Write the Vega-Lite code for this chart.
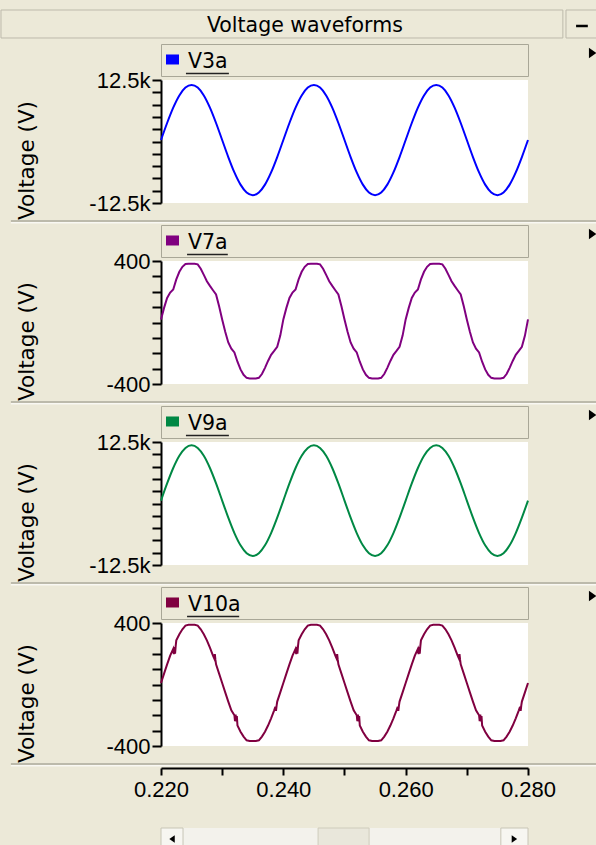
{
  "$schema": "https://vega.github.io/schema/vega-lite/v6.json",
  "padding": {"left": 0, "top": 9, "right": 0, "bottom": 0},
  "spacing": 4,
  "bounds": "flush",
  "config": {
    "background": "#ECE9D8",
    "view": {"stroke": null},
    "axis": {
      "domainColor": "#000000", "domainWidth": 2,
      "tickColor": "#000000", "tickWidth": 2,
      "labelFont": "Liberation Sans", "labelFontSize": 22, "labelColor": "#000000",
      "labelOverlap": false, "grid": false,
      "titleFont": "DejaVu Sans", "titleFontSize": 21.5, "titleFontWeight": "normal", "titleColor": "#000000"
    },
    "axisY": {"tickSize": 9, "labelPadding": 2, "titleX": -134, "titleY": 80, "titleBaseline": "middle", "titleAlign": "center"},
    "axisX": {"tickSize": 7, "labelPadding": 4, "labelFlush": false, "offset": 22, "labelDx": -5},
    "line": {"strokeWidth": 2}
  },
  "datasets": {
    "v3a": [
      {"t":0.220,"v":300},{"t":0.221,"v":3761},{"t":0.222,"v":6883},{"t":0.223,"v":9361},{"t":0.224,"v":10952},{"t":0.225,"v":11500},{"t":0.226,"v":10952},{"t":0.227,"v":9361},{"t":0.228,"v":6883},{"t":0.229,"v":3761},
      {"t":0.230,"v":300},{"t":0.231,"v":-3161},{"t":0.232,"v":-6283},{"t":0.233,"v":-8761},{"t":0.234,"v":-10352},{"t":0.235,"v":-10900},{"t":0.236,"v":-10352},{"t":0.237,"v":-8761},{"t":0.238,"v":-6283},{"t":0.239,"v":-3161},
      {"t":0.240,"v":300},{"t":0.241,"v":3761},{"t":0.242,"v":6883},{"t":0.243,"v":9361},{"t":0.244,"v":10952},{"t":0.245,"v":11500},{"t":0.246,"v":10952},{"t":0.247,"v":9361},{"t":0.248,"v":6883},{"t":0.249,"v":3761},
      {"t":0.250,"v":300},{"t":0.251,"v":-3161},{"t":0.252,"v":-6283},{"t":0.253,"v":-8761},{"t":0.254,"v":-10352},{"t":0.255,"v":-10900},{"t":0.256,"v":-10352},{"t":0.257,"v":-8761},{"t":0.258,"v":-6283},{"t":0.259,"v":-3161},
      {"t":0.260,"v":300},{"t":0.261,"v":3761},{"t":0.262,"v":6883},{"t":0.263,"v":9361},{"t":0.264,"v":10952},{"t":0.265,"v":11500},{"t":0.266,"v":10952},{"t":0.267,"v":9361},{"t":0.268,"v":6883},{"t":0.269,"v":3761},
      {"t":0.270,"v":300},{"t":0.271,"v":-3161},{"t":0.272,"v":-6283},{"t":0.273,"v":-8761},{"t":0.274,"v":-10352},{"t":0.275,"v":-10900},{"t":0.276,"v":-10352},{"t":0.277,"v":-8761},{"t":0.278,"v":-6283},{"t":0.279,"v":-3161},
      {"t":0.280,"v":300}
    ],
    "v9a": [
      {"t":0.220,"v":600},{"t":0.221,"v":4077},{"t":0.222,"v":7213},{"t":0.223,"v":9702},{"t":0.224,"v":11299},{"t":0.225,"v":11850},{"t":0.226,"v":11299},{"t":0.227,"v":9702},{"t":0.228,"v":7213},{"t":0.229,"v":4077},
      {"t":0.230,"v":600},{"t":0.231,"v":-2877},{"t":0.232,"v":-6013},{"t":0.233,"v":-8502},{"t":0.234,"v":-10099},{"t":0.235,"v":-10650},{"t":0.236,"v":-10099},{"t":0.237,"v":-8502},{"t":0.238,"v":-6013},{"t":0.239,"v":-2877},
      {"t":0.240,"v":600},{"t":0.241,"v":4077},{"t":0.242,"v":7213},{"t":0.243,"v":9702},{"t":0.244,"v":11299},{"t":0.245,"v":11850},{"t":0.246,"v":11299},{"t":0.247,"v":9702},{"t":0.248,"v":7213},{"t":0.249,"v":4077},
      {"t":0.250,"v":600},{"t":0.251,"v":-2877},{"t":0.252,"v":-6013},{"t":0.253,"v":-8502},{"t":0.254,"v":-10099},{"t":0.255,"v":-10650},{"t":0.256,"v":-10099},{"t":0.257,"v":-8502},{"t":0.258,"v":-6013},{"t":0.259,"v":-2877},
      {"t":0.260,"v":600},{"t":0.261,"v":4077},{"t":0.262,"v":7213},{"t":0.263,"v":9702},{"t":0.264,"v":11299},{"t":0.265,"v":11850},{"t":0.266,"v":11299},{"t":0.267,"v":9702},{"t":0.268,"v":7213},{"t":0.269,"v":4077},
      {"t":0.270,"v":600},{"t":0.271,"v":-2877},{"t":0.272,"v":-6013},{"t":0.273,"v":-8502},{"t":0.274,"v":-10099},{"t":0.275,"v":-10650},{"t":0.276,"v":-10099},{"t":0.277,"v":-8502},{"t":0.278,"v":-6013},{"t":0.279,"v":-2877},
      {"t":0.280,"v":600}
    ],
    "v7a": [
      {"t":0.2200,"v":20},{"t":0.2205,"v":95},{"t":0.2210,"v":160},{"t":0.2215,"v":195},{"t":0.2220,"v":215},{"t":0.2225,"v":280},{"t":0.2230,"v":330},{"t":0.2235,"v":362},{"t":0.2240,"v":380},{"t":0.2245,"v":382},
      {"t":0.2250,"v":382},{"t":0.2255,"v":382},{"t":0.2260,"v":378},{"t":0.2265,"v":350},{"t":0.2270,"v":310},{"t":0.2275,"v":268},{"t":0.2280,"v":238},{"t":0.2285,"v":210},{"t":0.2290,"v":182},{"t":0.2295,"v":105},
      {"t":0.2300,"v":20},{"t":0.2305,"v":-60},{"t":0.2310,"v":-130},{"t":0.2315,"v":-170},{"t":0.2320,"v":-195},{"t":0.2325,"v":-255},{"t":0.2330,"v":-305},{"t":0.2335,"v":-340},{"t":0.2340,"v":-360},{"t":0.2345,"v":-364},
      {"t":0.2350,"v":-364},{"t":0.2355,"v":-364},{"t":0.2360,"v":-360},{"t":0.2365,"v":-335},{"t":0.2370,"v":-295},{"t":0.2375,"v":-250},{"t":0.2380,"v":-210},{"t":0.2385,"v":-185},{"t":0.2390,"v":-158},{"t":0.2395,"v":-85},
      {"t":0.2400,"v":20},{"t":0.2405,"v":95},{"t":0.2410,"v":160},{"t":0.2415,"v":195},{"t":0.2420,"v":215},{"t":0.2425,"v":280},{"t":0.2430,"v":330},{"t":0.2435,"v":362},{"t":0.2440,"v":380},{"t":0.2445,"v":382},
      {"t":0.2450,"v":382},{"t":0.2455,"v":382},{"t":0.2460,"v":378},{"t":0.2465,"v":350},{"t":0.2470,"v":310},{"t":0.2475,"v":268},{"t":0.2480,"v":238},{"t":0.2485,"v":210},{"t":0.2490,"v":182},{"t":0.2495,"v":105},
      {"t":0.2500,"v":20},{"t":0.2505,"v":-60},{"t":0.2510,"v":-130},{"t":0.2515,"v":-170},{"t":0.2520,"v":-195},{"t":0.2525,"v":-255},{"t":0.2530,"v":-305},{"t":0.2535,"v":-340},{"t":0.2540,"v":-360},{"t":0.2545,"v":-364},
      {"t":0.2550,"v":-364},{"t":0.2555,"v":-364},{"t":0.2560,"v":-360},{"t":0.2565,"v":-335},{"t":0.2570,"v":-295},{"t":0.2575,"v":-250},{"t":0.2580,"v":-210},{"t":0.2585,"v":-185},{"t":0.2590,"v":-158},{"t":0.2595,"v":-85},
      {"t":0.2600,"v":20},{"t":0.2605,"v":95},{"t":0.2610,"v":160},{"t":0.2615,"v":195},{"t":0.2620,"v":215},{"t":0.2625,"v":280},{"t":0.2630,"v":330},{"t":0.2635,"v":362},{"t":0.2640,"v":380},{"t":0.2645,"v":382},
      {"t":0.2650,"v":382},{"t":0.2655,"v":382},{"t":0.2660,"v":378},{"t":0.2665,"v":350},{"t":0.2670,"v":310},{"t":0.2675,"v":268},{"t":0.2680,"v":238},{"t":0.2685,"v":210},{"t":0.2690,"v":182},{"t":0.2695,"v":105},
      {"t":0.2700,"v":20},{"t":0.2705,"v":-60},{"t":0.2710,"v":-130},{"t":0.2715,"v":-170},{"t":0.2720,"v":-195},{"t":0.2725,"v":-255},{"t":0.2730,"v":-305},{"t":0.2735,"v":-340},{"t":0.2740,"v":-360},{"t":0.2745,"v":-364},
      {"t":0.2750,"v":-364},{"t":0.2755,"v":-364},{"t":0.2760,"v":-360},{"t":0.2765,"v":-335},{"t":0.2770,"v":-295},{"t":0.2775,"v":-250},{"t":0.2780,"v":-210},{"t":0.2785,"v":-185},{"t":0.2790,"v":-158},{"t":0.2795,"v":-85},
      {"t":0.2800,"v":20}
    ],
    "v10a": [
      {"t":0.2200,"v":10},{"t":0.2205,"v":71},{"t":0.2210,"v":131},{"t":0.2215,"v":188},{"t":0.2220,"v":232},{"t":0.2221,"v":198},{"t":0.2222,"v":244},{"t":0.2223,"v":200},{"t":0.2224,"v":250},{"t":0.2225,"v":287},
      {"t":0.2230,"v":327},{"t":0.2235,"v":359},{"t":0.2240,"v":383},{"t":0.2245,"v":388},{"t":0.2250,"v":388},{"t":0.2255,"v":388},{"t":0.2260,"v":383},{"t":0.2265,"v":359},{"t":0.2270,"v":327},{"t":0.2275,"v":287},
      {"t":0.2280,"v":240},{"t":0.2285,"v":188},{"t":0.2287,"v":170},{"t":0.2288,"v":198},{"t":0.2289,"v":160},{"t":0.2290,"v":131},{"t":0.2295,"v":71},{"t":0.2300,"v":10},{"t":0.2305,"v":-51},{"t":0.2310,"v":-111},
      {"t":0.2315,"v":-168},{"t":0.2320,"v":-200},{"t":0.2321,"v":-238},{"t":0.2322,"v":-195},{"t":0.2323,"v":-240},{"t":0.2324,"v":-205},{"t":0.2325,"v":-267},{"t":0.2330,"v":-307},{"t":0.2335,"v":-339},{"t":0.2340,"v":-363},
      {"t":0.2345,"v":-368},{"t":0.2350,"v":-368},{"t":0.2355,"v":-368},{"t":0.2360,"v":-363},{"t":0.2365,"v":-339},{"t":0.2370,"v":-307},{"t":0.2375,"v":-267},{"t":0.2380,"v":-220},{"t":0.2385,"v":-168},{"t":0.2387,"v":-145},
      {"t":0.2388,"v":-172},{"t":0.2389,"v":-138},{"t":0.2390,"v":-111},{"t":0.2395,"v":-51},
      {"t":0.2400,"v":10},{"t":0.2405,"v":71},{"t":0.2410,"v":131},{"t":0.2415,"v":188},{"t":0.2420,"v":232},{"t":0.2421,"v":198},{"t":0.2422,"v":244},{"t":0.2423,"v":200},{"t":0.2424,"v":250},{"t":0.2425,"v":287},
      {"t":0.2430,"v":327},{"t":0.2435,"v":359},{"t":0.2440,"v":383},{"t":0.2445,"v":388},{"t":0.2450,"v":388},{"t":0.2455,"v":388},{"t":0.2460,"v":383},{"t":0.2465,"v":359},{"t":0.2470,"v":327},{"t":0.2475,"v":287},
      {"t":0.2480,"v":240},{"t":0.2485,"v":188},{"t":0.2487,"v":170},{"t":0.2488,"v":198},{"t":0.2489,"v":160},{"t":0.2490,"v":131},{"t":0.2495,"v":71},{"t":0.2500,"v":10},{"t":0.2505,"v":-51},{"t":0.2510,"v":-111},
      {"t":0.2515,"v":-168},{"t":0.2520,"v":-200},{"t":0.2521,"v":-238},{"t":0.2522,"v":-195},{"t":0.2523,"v":-240},{"t":0.2524,"v":-205},{"t":0.2525,"v":-267},{"t":0.2530,"v":-307},{"t":0.2535,"v":-339},{"t":0.2540,"v":-363},
      {"t":0.2545,"v":-368},{"t":0.2550,"v":-368},{"t":0.2555,"v":-368},{"t":0.2560,"v":-363},{"t":0.2565,"v":-339},{"t":0.2570,"v":-307},{"t":0.2575,"v":-267},{"t":0.2580,"v":-220},{"t":0.2585,"v":-168},{"t":0.2587,"v":-145},
      {"t":0.2588,"v":-172},{"t":0.2589,"v":-138},{"t":0.2590,"v":-111},{"t":0.2595,"v":-51},
      {"t":0.2600,"v":10},{"t":0.2605,"v":71},{"t":0.2610,"v":131},{"t":0.2615,"v":188},{"t":0.2620,"v":232},{"t":0.2621,"v":198},{"t":0.2622,"v":244},{"t":0.2623,"v":200},{"t":0.2624,"v":250},{"t":0.2625,"v":287},
      {"t":0.2630,"v":327},{"t":0.2635,"v":359},{"t":0.2640,"v":383},{"t":0.2645,"v":388},{"t":0.2650,"v":388},{"t":0.2655,"v":388},{"t":0.2660,"v":383},{"t":0.2665,"v":359},{"t":0.2670,"v":327},{"t":0.2675,"v":287},
      {"t":0.2680,"v":240},{"t":0.2685,"v":188},{"t":0.2687,"v":170},{"t":0.2688,"v":198},{"t":0.2689,"v":160},{"t":0.2690,"v":131},{"t":0.2695,"v":71},{"t":0.2700,"v":10},{"t":0.2705,"v":-51},{"t":0.2710,"v":-111},
      {"t":0.2715,"v":-168},{"t":0.2720,"v":-200},{"t":0.2721,"v":-238},{"t":0.2722,"v":-195},{"t":0.2723,"v":-240},{"t":0.2724,"v":-205},{"t":0.2725,"v":-267},{"t":0.2730,"v":-307},{"t":0.2735,"v":-339},{"t":0.2740,"v":-363},
      {"t":0.2745,"v":-368},{"t":0.2750,"v":-368},{"t":0.2755,"v":-368},{"t":0.2760,"v":-363},{"t":0.2765,"v":-339},{"t":0.2770,"v":-307},{"t":0.2775,"v":-267},{"t":0.2780,"v":-220},{"t":0.2785,"v":-168},{"t":0.2787,"v":-145},
      {"t":0.2788,"v":-172},{"t":0.2789,"v":-138},{"t":0.2790,"v":-111},{"t":0.2795,"v":-51},
      {"t":0.2800,"v":10}
    ]
  },
  "vconcat": [
    {
      "width": 367, "height": 30,
      "data": {"values": [{"label": "Voltage waveforms"}]},
      "layer": [
        {"mark": {"type": "rect", "fill": "#ECE9D8", "stroke": "#BDBAAB", "strokeWidth": 1},
         "encoding": {"x": {"datum": -0.436, "type": "quantitative", "scale": {"domain": [0, 1]}, "axis": null}, "x2": {"datum": 1.095},
                      "y": {"datum": 0.067, "type": "quantitative", "scale": {"domain": [0, 1]}, "axis": null}, "y2": {"datum": 1}}},
        {"mark": {"type": "rect", "fill": "#ECE9D8", "stroke": "#BDBAAB", "strokeWidth": 1},
         "encoding": {"x": {"datum": 1.1035, "type": "quantitative", "scale": {"domain": [0, 1]}, "axis": null}, "x2": {"datum": 1.1935},
                      "y": {"datum": 0.067, "type": "quantitative", "scale": {"domain": [0, 1]}, "axis": null}, "y2": {"datum": 1}}},
        {"mark": {"type": "rule", "color": "#000000", "strokeWidth": 2.5},
         "encoding": {"x": {"datum": 1.131, "type": "quantitative", "scale": {"domain": [0, 1]}, "axis": null}, "x2": {"datum": 1.163},
                      "y": {"datum": 0.467, "type": "quantitative", "scale": {"domain": [0, 1]}, "axis": null}}},
        {"mark": {"type": "text", "font": "DejaVu Sans", "fontSize": 20.5, "align": "center", "baseline": "middle", "color": "#000000"},
         "encoding": {"text": {"field": "label"},
                      "x": {"datum": 0.392, "type": "quantitative", "scale": {"domain": [0, 1]}, "axis": null},
                      "y": {"datum": 0.48, "type": "quantitative", "scale": {"domain": [0, 1]}, "axis": null}}}
      ]
    },
    {
      "width": 367, "height": 32,
      "view": {"fill": "#ECE9D8", "stroke": "#A9A797"},
      "data": {"values": [{"name": "V3a"}]},
      "layer": [
        {"mark": {"type": "point", "shape": "M-1,-0.77H1V0.77H-1Z", "filled": true, "size": 169, "color": "#0000FF", "opacity": 1},
         "encoding": {"x": {"datum": 0.0313, "type": "quantitative", "scale": {"domain": [0, 1]}, "axis": null},
                      "y": {"datum": 0.516, "type": "quantitative", "scale": {"domain": [0, 1]}, "axis": null}}},
        {"mark": {"type": "text", "align": "left", "baseline": "alphabetic", "font": "DejaVu Sans", "fontSize": 20.5, "color": "#000000"},
         "encoding": {"text": {"field": "name"},
                      "x": {"datum": 0.0736, "type": "quantitative", "scale": {"domain": [0, 1]}, "axis": null},
                      "y": {"datum": 0.26, "type": "quantitative", "scale": {"domain": [0, 1]}, "axis": null}}},
        {"mark": {"type": "rule", "color": "#222222", "strokeWidth": 1.6},
         "encoding": {"x": {"datum": 0.068, "type": "quantitative", "scale": {"domain": [0, 1]}, "axis": null}, "x2": {"datum": 0.185},
                      "y": {"datum": 0.078, "type": "quantitative", "scale": {"domain": [0, 1]}, "axis": null}}},
        {"mark": {"type": "point", "shape": "M-0.7,-1L0.7,0L-0.7,1Z", "filled": true, "size": 110, "color": "#000000", "opacity": 1},
         "encoding": {"x": {"datum": 1.176, "type": "quantitative", "scale": {"domain": [0, 1]}, "axis": null},
                      "y": {"datum": 0.72, "type": "quantitative", "scale": {"domain": [0, 1]}, "axis": null}}}
      ]
    },
    {
      "width": 367, "height": 123,
      "view": {"fill": "#FFFFFF"},
      "data": {"name": "v3a"},
      "mark": {"type": "line", "color": "#0000FF", "interpolate": "monotone"},
      "encoding": {
        "x": {"field": "t", "type": "quantitative", "scale": {"domain": [0.22, 0.28], "nice": false, "zero": false}, "axis": null},
        "y": {"field": "v", "type": "quantitative", "scale": {"domain": [-12500, 12500], "nice": false},
              "axis": {"title": "Voltage (V)", "values": [-12500, -10000, -7500, -5000, -2500, 0, 2500, 5000, 7500, 10000, 12500],
                       "labelExpr": "datum.value === 12500 ? '12.5k' : datum.value === -12500 ? '-12.5k' : ''"}}
      }
    },
    {
      "width": 367, "height": 14,
      "data": {"values": [{}]},
      "layer": [
        {"mark": {"type": "rule", "color": "#ADAA9C", "strokeWidth": 1.5},
         "encoding": {"x": {"datum": -0.409, "type": "quantitative", "scale": {"domain": [0, 1]}, "axis": null}, "x2": {"datum": 1.19},
                      "y": {"datum": 0, "type": "quantitative", "scale": {"domain": [0, 1]}, "axis": null}}},
        {"mark": {"type": "rule", "color": "#FFFFFF", "strokeWidth": 1},
         "encoding": {"x": {"datum": -0.409, "type": "quantitative", "scale": {"domain": [0, 1]}, "axis": null}, "x2": {"datum": 1.19},
                      "y": {"datum": -0.13, "type": "quantitative", "scale": {"domain": [0, 1]}, "axis": null}}}
      ]
    },
    {
      "width": 367, "height": 32,
      "view": {"fill": "#ECE9D8", "stroke": "#A9A797"},
      "data": {"values": [{"name": "V7a"}]},
      "layer": [
        {"mark": {"type": "point", "shape": "M-1,-0.77H1V0.77H-1Z", "filled": true, "size": 169, "color": "#800080", "opacity": 1},
         "encoding": {"x": {"datum": 0.0313, "type": "quantitative", "scale": {"domain": [0, 1]}, "axis": null},
                      "y": {"datum": 0.516, "type": "quantitative", "scale": {"domain": [0, 1]}, "axis": null}}},
        {"mark": {"type": "text", "align": "left", "baseline": "alphabetic", "font": "DejaVu Sans", "fontSize": 20.5, "color": "#000000"},
         "encoding": {"text": {"field": "name"},
                      "x": {"datum": 0.0736, "type": "quantitative", "scale": {"domain": [0, 1]}, "axis": null},
                      "y": {"datum": 0.26, "type": "quantitative", "scale": {"domain": [0, 1]}, "axis": null}}},
        {"mark": {"type": "rule", "color": "#222222", "strokeWidth": 1.6},
         "encoding": {"x": {"datum": 0.071, "type": "quantitative", "scale": {"domain": [0, 1]}, "axis": null}, "x2": {"datum": 0.182},
                      "y": {"datum": 0.078, "type": "quantitative", "scale": {"domain": [0, 1]}, "axis": null}}},
        {"mark": {"type": "point", "shape": "M-0.7,-1L0.7,0L-0.7,1Z", "filled": true, "size": 110, "color": "#000000", "opacity": 1},
         "encoding": {"x": {"datum": 1.176, "type": "quantitative", "scale": {"domain": [0, 1]}, "axis": null},
                      "y": {"datum": 0.72, "type": "quantitative", "scale": {"domain": [0, 1]}, "axis": null}}}
      ]
    },
    {
      "width": 367, "height": 123,
      "view": {"fill": "#FFFFFF"},
      "data": {"name": "v7a"},
      "mark": {"type": "line", "color": "#800080"},
      "encoding": {
        "x": {"field": "t", "type": "quantitative", "scale": {"domain": [0.22, 0.28], "nice": false, "zero": false}, "axis": null},
        "y": {"field": "v", "type": "quantitative", "scale": {"domain": [-400, 400], "nice": false},
              "axis": {"title": "Voltage (V)", "values": [-400, -300, -200, -100, 0, 100, 200, 300, 400],
                       "labelExpr": "datum.value === 400 ? '400' : datum.value === -400 ? '-400' : ''"}}
      }
    },
    {
      "width": 367, "height": 14,
      "data": {"values": [{}]},
      "layer": [
        {"mark": {"type": "rule", "color": "#ADAA9C", "strokeWidth": 1.5},
         "encoding": {"x": {"datum": -0.409, "type": "quantitative", "scale": {"domain": [0, 1]}, "axis": null}, "x2": {"datum": 1.19},
                      "y": {"datum": 0, "type": "quantitative", "scale": {"domain": [0, 1]}, "axis": null}}},
        {"mark": {"type": "rule", "color": "#FFFFFF", "strokeWidth": 1},
         "encoding": {"x": {"datum": -0.409, "type": "quantitative", "scale": {"domain": [0, 1]}, "axis": null}, "x2": {"datum": 1.19},
                      "y": {"datum": -0.13, "type": "quantitative", "scale": {"domain": [0, 1]}, "axis": null}}}
      ]
    },
    {
      "width": 367, "height": 32,
      "view": {"fill": "#ECE9D8", "stroke": "#A9A797"},
      "data": {"values": [{"name": "V9a"}]},
      "layer": [
        {"mark": {"type": "point", "shape": "M-1,-0.77H1V0.77H-1Z", "filled": true, "size": 169, "color": "#008844", "opacity": 1},
         "encoding": {"x": {"datum": 0.0313, "type": "quantitative", "scale": {"domain": [0, 1]}, "axis": null},
                      "y": {"datum": 0.516, "type": "quantitative", "scale": {"domain": [0, 1]}, "axis": null}}},
        {"mark": {"type": "text", "align": "left", "baseline": "alphabetic", "font": "DejaVu Sans", "fontSize": 20.5, "color": "#000000"},
         "encoding": {"text": {"field": "name"},
                      "x": {"datum": 0.0736, "type": "quantitative", "scale": {"domain": [0, 1]}, "axis": null},
                      "y": {"datum": 0.26, "type": "quantitative", "scale": {"domain": [0, 1]}, "axis": null}}},
        {"mark": {"type": "rule", "color": "#222222", "strokeWidth": 1.6},
         "encoding": {"x": {"datum": 0.068, "type": "quantitative", "scale": {"domain": [0, 1]}, "axis": null}, "x2": {"datum": 0.185},
                      "y": {"datum": 0.078, "type": "quantitative", "scale": {"domain": [0, 1]}, "axis": null}}},
        {"mark": {"type": "point", "shape": "M-0.7,-1L0.7,0L-0.7,1Z", "filled": true, "size": 110, "color": "#000000", "opacity": 1},
         "encoding": {"x": {"datum": 1.176, "type": "quantitative", "scale": {"domain": [0, 1]}, "axis": null},
                      "y": {"datum": 0.72, "type": "quantitative", "scale": {"domain": [0, 1]}, "axis": null}}}
      ]
    },
    {
      "width": 367, "height": 123,
      "view": {"fill": "#FFFFFF"},
      "data": {"name": "v9a"},
      "mark": {"type": "line", "color": "#008844", "interpolate": "monotone"},
      "encoding": {
        "x": {"field": "t", "type": "quantitative", "scale": {"domain": [0.22, 0.28], "nice": false, "zero": false}, "axis": null},
        "y": {"field": "v", "type": "quantitative", "scale": {"domain": [-12500, 12500], "nice": false},
              "axis": {"title": "Voltage (V)", "values": [-12500, -10000, -7500, -5000, -2500, 0, 2500, 5000, 7500, 10000, 12500],
                       "labelExpr": "datum.value === 12500 ? '12.5k' : datum.value === -12500 ? '-12.5k' : ''"}}
      }
    },
    {
      "width": 367, "height": 14,
      "data": {"values": [{}]},
      "layer": [
        {"mark": {"type": "rule", "color": "#ADAA9C", "strokeWidth": 1.5},
         "encoding": {"x": {"datum": -0.409, "type": "quantitative", "scale": {"domain": [0, 1]}, "axis": null}, "x2": {"datum": 1.19},
                      "y": {"datum": 0, "type": "quantitative", "scale": {"domain": [0, 1]}, "axis": null}}},
        {"mark": {"type": "rule", "color": "#FFFFFF", "strokeWidth": 1},
         "encoding": {"x": {"datum": -0.409, "type": "quantitative", "scale": {"domain": [0, 1]}, "axis": null}, "x2": {"datum": 1.19},
                      "y": {"datum": -0.13, "type": "quantitative", "scale": {"domain": [0, 1]}, "axis": null}}}
      ]
    },
    {
      "width": 367, "height": 32,
      "view": {"fill": "#ECE9D8", "stroke": "#A9A797"},
      "data": {"values": [{"name": "V10a"}]},
      "layer": [
        {"mark": {"type": "point", "shape": "M-1,-0.77H1V0.77H-1Z", "filled": true, "size": 169, "color": "#800040", "opacity": 1},
         "encoding": {"x": {"datum": 0.0313, "type": "quantitative", "scale": {"domain": [0, 1]}, "axis": null},
                      "y": {"datum": 0.516, "type": "quantitative", "scale": {"domain": [0, 1]}, "axis": null}}},
        {"mark": {"type": "text", "align": "left", "baseline": "alphabetic", "font": "DejaVu Sans", "fontSize": 20.5, "color": "#000000"},
         "encoding": {"text": {"field": "name"},
                      "x": {"datum": 0.0736, "type": "quantitative", "scale": {"domain": [0, 1]}, "axis": null},
                      "y": {"datum": 0.26, "type": "quantitative", "scale": {"domain": [0, 1]}, "axis": null}}},
        {"mark": {"type": "rule", "color": "#222222", "strokeWidth": 1.6},
         "encoding": {"x": {"datum": 0.071, "type": "quantitative", "scale": {"domain": [0, 1]}, "axis": null}, "x2": {"datum": 0.213},
                      "y": {"datum": 0.078, "type": "quantitative", "scale": {"domain": [0, 1]}, "axis": null}}},
        {"mark": {"type": "point", "shape": "M-0.7,-1L0.7,0L-0.7,1Z", "filled": true, "size": 110, "color": "#000000", "opacity": 1},
         "encoding": {"x": {"datum": 1.176, "type": "quantitative", "scale": {"domain": [0, 1]}, "axis": null},
                      "y": {"datum": 0.72, "type": "quantitative", "scale": {"domain": [0, 1]}, "axis": null}}}
      ]
    },
    {
      "width": 367, "height": 123,
      "view": {"fill": "#FFFFFF"},
      "data": {"name": "v10a"},
      "mark": {"type": "line", "color": "#800040"},
      "encoding": {
        "x": {"field": "t", "type": "quantitative", "scale": {"domain": [0.22, 0.28], "nice": false, "zero": false},
              "axis": {"title": null, "values": [0.22, 0.23, 0.24, 0.25, 0.26, 0.27, 0.28],
                       "labelExpr": "indexof([22, 24, 26, 28], round(datum.value * 100)) >= 0 ? format(datum.value, '.3f') : ''"}},
        "y": {"field": "v", "type": "quantitative", "scale": {"domain": [-400, 400], "nice": false},
              "axis": {"title": "Voltage (V)", "values": [-400, -300, -200, -100, 0, 100, 200, 300, 400],
                       "labelExpr": "datum.value === 400 ? '400' : datum.value === -400 ? '-400' : ''"}}
      }
    },
    {
      "width": 367, "height": 14,
      "data": {"values": [{}]},
      "layer": [
        {"mark": {"type": "rule", "color": "#ADAA9C", "strokeWidth": 1.5},
         "encoding": {"x": {"datum": -0.409, "type": "quantitative", "scale": {"domain": [0, 1]}, "axis": null}, "x2": {"datum": 1.19},
                      "y": {"datum": 0, "type": "quantitative", "scale": {"domain": [0, 1]}, "axis": null}}},
        {"mark": {"type": "rule", "color": "#FFFFFF", "strokeWidth": 1},
         "encoding": {"x": {"datum": -0.409, "type": "quantitative", "scale": {"domain": [0, 1]}, "axis": null}, "x2": {"datum": 1.19},
                      "y": {"datum": -0.13, "type": "quantitative", "scale": {"domain": [0, 1]}, "axis": null}}}
      ]
    },
    {
      "width": 367, "height": 56,
      "data": {"values": [{}]},
      "mark": {"type": "text", "text": ""},
      "encoding": {}
    },
    {
      "width": 367, "height": 20,
      "view": {"fill": "#F3F2EC"},
      "data": {"values": [{}]},
      "layer": [
        {"mark": {"type": "rect", "fill": "#E9E7DB", "stroke": "#CFCCBC", "strokeWidth": 1},
         "encoding": {"x": {"datum": 0.428, "type": "quantitative", "scale": {"domain": [0, 1]}, "axis": null}, "x2": {"datum": 0.567},
                      "y": {"datum": 0, "type": "quantitative", "scale": {"domain": [0, 1]}, "axis": null}, "y2": {"datum": 1}}},
        {"mark": {"type": "rect", "fill": "#F7F6F1", "stroke": "#C8C5B6", "strokeWidth": 1},
         "encoding": {"x": {"datum": 0, "type": "quantitative", "scale": {"domain": [0, 1]}, "axis": null}, "x2": {"datum": 0.06},
                      "y": {"datum": 0, "type": "quantitative", "scale": {"domain": [0, 1]}, "axis": null}, "y2": {"datum": 1}}},
        {"mark": {"type": "rect", "fill": "#F7F6F1", "stroke": "#C8C5B6", "strokeWidth": 1},
         "encoding": {"x": {"datum": 0.926, "type": "quantitative", "scale": {"domain": [0, 1]}, "axis": null}, "x2": {"datum": 1},
                      "y": {"datum": 0, "type": "quantitative", "scale": {"domain": [0, 1]}, "axis": null}, "y2": {"datum": 1}}},
        {"mark": {"type": "point", "shape": "M0.7,-1L-0.7,0L0.7,1Z", "filled": true, "size": 60, "color": "#000000", "opacity": 1},
         "encoding": {"x": {"datum": 0.03, "type": "quantitative", "scale": {"domain": [0, 1]}, "axis": null},
                      "y": {"datum": 0.45, "type": "quantitative", "scale": {"domain": [0, 1]}, "axis": null}}},
        {"mark": {"type": "point", "shape": "M-0.7,-1L0.7,0L-0.7,1Z", "filled": true, "size": 60, "color": "#000000", "opacity": 1},
         "encoding": {"x": {"datum": 0.963, "type": "quantitative", "scale": {"domain": [0, 1]}, "axis": null},
                      "y": {"datum": 0.45, "type": "quantitative", "scale": {"domain": [0, 1]}, "axis": null}}}
      ]
    }
  ]
}
